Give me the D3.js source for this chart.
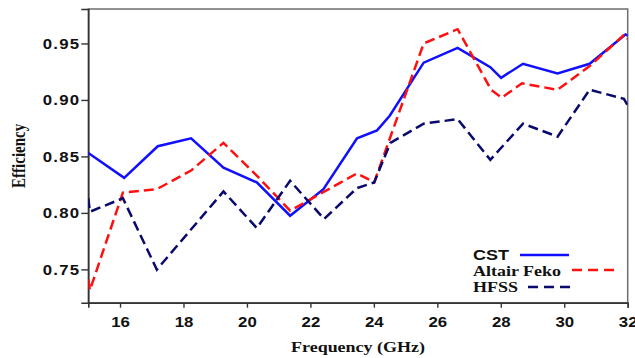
<!DOCTYPE html>
<html>
<head>
<meta charset="utf-8">
<script src="https://cdn.jsdelivr.net/npm/d3@7"></script>
<style>
body{margin:0;background:#fff;}
svg{display:block;}
</style>
</head>
<body>
<svg id="chart"></svg>
<script>
// values
var freqCST  = [15, 16.13, 17.19, 18.24, 19.26, 20.31, 21.36, 22.41, 23.47, 24.1, 24.5, 25.57, 26.64, 27.67, 28.01, 28.7, 29.79, 30.8, 31.93, 32];
var effCST   = [0.853, 0.831, 0.859, 0.866, 0.840, 0.827, 0.7975, 0.821, 0.866, 0.873, 0.886, 0.933, 0.946, 0.929, 0.9196, 0.932, 0.9235, 0.932, 0.958, 0.957];
var freqFeko = [15, 15.05, 16.09, 17.16, 18.24, 19.26, 20.31, 21.36, 23.47, 24.01, 25.57, 26.64, 27.7, 28.03, 28.67, 29.79, 30.8, 31.9, 32];
var effFeko  = [0.741, 0.7315, 0.818, 0.821, 0.8375, 0.862, 0.833, 0.802, 0.835, 0.827, 0.95, 0.9626, 0.9088, 0.902, 0.9147, 0.909, 0.930, 0.958, 0.954];
var freqHfss = [15, 15.05, 16.09, 17.16, 19.26, 20.31, 21.36, 22.43, 23.47, 24.01, 24.52, 25.57, 26.64, 27.67, 28.7, 29.79, 30.8, 31.88, 32];
var effHfss  = [0.813, 0.801, 0.813, 0.7498, 0.819, 0.7866, 0.8284, 0.7946, 0.822, 0.827, 0.862, 0.879, 0.883, 0.847, 0.879, 0.8675, 0.909, 0.901, 0.895];
var xTicks = [16, 18, 20, 22, 24, 26, 28, 30, 32];
var yTicks = [0.75, 0.80, 0.85, 0.90, 0.95];
var seriesNames = ["CST", "Altair Feko", "HFSS"];

var width = 635, height = 358;
var svg = d3.select("#chart").attr("width", width).attr("height", height);

var x = d3.scaleLinear().domain([15, 32]).range([88.3, 627.7]);
var y = d3.scaleLinear().domain([0.7205, 0.9805]).range([302.7, 9]);

var sans = "'Liberation Sans', Arial, sans-serif";
var serif = "'Liberation Serif', 'Times New Roman', serif";
var stretch = 1.2; // the reference is a bit wider than tall

svg.append("defs").append("clipPath").attr("id", "plotclip")
    .append("rect")
    .attr("x", x(15)).attr("y", y(0.9805))
    .attr("width", x(32) - x(15)).attr("height", y(0.7205) - y(0.9805));

// frame
svg.append("rect")
    .attr("x", x(15)).attr("y", y(0.9805))
    .attr("width", x(32) - x(15)).attr("height", y(0.7205) - y(0.9805))
    .attr("fill", "none").attr("stroke", "#6e6e6e").attr("stroke-width", 1.5);

// axes
var xAxis = svg.append("g").attr("transform", "translate(0," + y(0.7205) + ")")
    .call(d3.axisBottom(x).tickValues(xTicks).tickSize(5).tickFormat(d3.format("d")));
var yAxis = svg.append("g").attr("transform", "translate(" + x(15) + ",0)")
    .call(d3.axisLeft(y).tickValues(yTicks).tickSize(7).tickFormat(d3.format(".2f")));

[xAxis, yAxis].forEach(function(a){
    a.select(".domain").attr("stroke", "#333").attr("stroke-width", 1.6);
    a.selectAll(".tick line").attr("stroke", "#333").attr("stroke-width", 1.4);
    a.selectAll(".tick text")
        .attr("fill", "#111")
        .style("font-family", sans).style("font-weight", "bold").style("font-size", "14px");
});

// stretch the tick labels sideways like the picture
xAxis.selectAll(".tick text").each(function(){
    var t = d3.select(this);
    t.attr("y", 0).attr("dy", 0)
     .attr("transform", "translate(0,24) scale(" + stretch + ",1)");
});
yAxis.selectAll(".tick text").each(function(){
    var t = d3.select(this);
    t.attr("x", 0).attr("dy", 0).style("letter-spacing", "1px")
     .attr("transform", "translate(-8,5) scale(" + stretch + ",1)");
});

// axis titles
svg.append("text")
    .attr("transform", "translate(" + ((x(15) + x(32)) / 2) + ",352) scale(" + stretch + ",1)")
    .attr("text-anchor", "middle")
    .style("font-family", serif).style("font-weight", "bold").style("font-size", "15px")
    .attr("fill", "#111")
    .text("Frequency (GHz)");

svg.append("text")
    .attr("transform", "translate(25," + ((y(0.7205) + y(0.9805)) / 2) + ") scale(" + stretch + ",1) rotate(-90)")
    .attr("text-anchor", "middle")
    .style("font-family", serif).style("font-weight", "bold").style("font-size", "15px")
    .attr("fill", "#111")
    .text("Efficiency");

// lines
var line = d3.line().x(function(d){ return x(d[0]); }).y(function(d){ return y(d[1]); });
var plot = svg.append("g").attr("clip-path", "url(#plotclip)");

var series = [
    {name: seriesNames[0], xs: freqCST, ys: effCST, color: "#1010ff", dash: null},
    {name: seriesNames[1], xs: freqFeko, ys: effFeko, color: "#ff1010", dash: "10,5"},
    {name: seriesNames[2], xs: freqHfss, ys: effHfss, color: "#0a0a6e", dash: "10,5"}
];

series.forEach(function(s){
    plot.append("path")
        .datum(d3.zip(s.xs, s.ys))
        .attr("d", line)
        .attr("fill", "none")
        .attr("stroke", s.color)
        .attr("stroke-width", 2.5)
        .attr("stroke-dasharray", s.dash);
});

// legend
var leg = [
    {font: sans, base: 260, lx1: 520, lx2: 569, ly: 255},
    {font: serif, base: 276, lx1: 572, lx2: 615, ly: 270},
    {font: serif, base: 291.5, lx1: 528, lx2: 572, ly: 287}
];
series.forEach(function(s, i){
    var l = leg[i];
    svg.append("text")
        .attr("transform", "translate(473," + l.base + ") scale(" + stretch + ",1)")
        .style("font-family", l.font).style("font-weight", "bold").style("font-size", "15px")
        .attr("fill", "#111")
        .text(s.name);
    svg.append("line")
        .attr("x1", l.lx1).attr("x2", l.lx2).attr("y1", l.ly).attr("y2", l.ly)
        .attr("stroke", s.color).attr("stroke-width", 2.5)
        .attr("stroke-dasharray", s.dash ? "10,6" : null);
});
</script>
</body>
</html>
